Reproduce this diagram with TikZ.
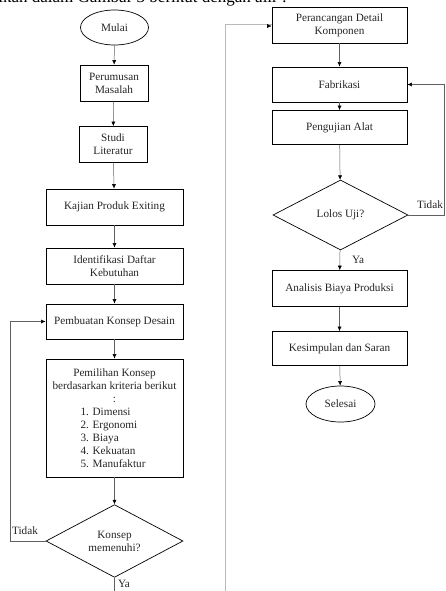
\documentclass[tikz,border=0pt]{standalone}
\usepackage{fontspec}
\setmainfont{Liberation Serif}
\usetikzlibrary{arrows.meta,shapes.geometric}
\newcommand{\fs}{\fontsize{11.2}{13}\selectfont}
\tikzset{
  base/.style={draw=black, line width=0.7pt, inner sep=0pt, align=center, font=\fs, text=black!85},
  proc/.style={base, rectangle, minimum width=135pt, minimum height=36pt},
  procs/.style={base, rectangle, minimum width=68pt, minimum height=36pt},
  term/.style={base, ellipse, minimum width=68pt, minimum height=35pt},
  dec/.style={base, diamond, minimum width=137pt, minimum height=72pt},
  conn/.style={draw=gray!75!black, line width=0.5pt, -{Latex[length=4.5pt,width=4pt,color=black]}},
  connp/.style={draw=gray!75!black, line width=0.5pt},
  connc/.style={draw=gray!55, line width=1pt},
  lbl/.style={font=\fs, inner sep=0pt, text=black!85}
}
\begin{document}
\begin{tikzpicture}[x=1pt,y=-1pt]
\useasboundingbox (0,0) rectangle (446,591);
\fill[white] (0,0) rectangle (446,591);
\begin{scope}
\clip (0,0) rectangle (446,591);
\node[anchor=base east, font=\fontsize{17}{17}\selectfont, inner sep=0pt] (toptext) at (287,2.2) {disajikan dalam Gambar 3 berikut dengan alir :};
\end{scope}
% left column
\node[term] (mulai) at (114.5,27.5) {Mulai};
\node[procs] (rumus) at (114,83) {Perumusan\\Masalah};
\node[procs] (studi) at (113,144.5) {Studi\\Literatur};
\node[proc, minimum width=137pt] (kajian) at (114.5,207) {Kajian Produk Exiting};
\node[proc, minimum width=137pt] (ident) at (114.5,266) {Identifikasi Daftar\\Kebutuhan};
\node[proc, minimum width=137pt, minimum height=35pt] (buat) at (114.5,321.5) {Pembuatan Konsep Desain};
\node[proc, minimum width=137pt, minimum height=118pt] (pilih) at (114.5,418) {Pemilihan Konsep\\berdasarkan kriteria berikut\\:\\
\makebox[68pt][l]{1. Dimensi}\\\makebox[68pt][l]{2. Ergonomi}\\\makebox[68pt][l]{3. Biaya}\\\makebox[68pt][l]{4. Kekuatan}\\\makebox[68pt][l]{5. Manufaktur}};
\node[dec] (konsep) at (114.5,541) {Konsep\\memenuhi?};
\coordinate (loopL) at (10,541);
\coordinate (yaEnd) at (114.5,591);
\node[lbl] (tidak1) at (25,531) {Tidak};
\node[lbl] (ya1) at (124,584) {Ya};
\draw[conn] (mulai) -- (rumus);
\draw[conn] (rumus) -- (studi);
\draw[conn] (studi) -- (kajian);
\draw[conn] (kajian) -- (ident);
\draw[conn] (ident) -- (buat);
\draw[conn] (buat) -- (pilih);
\draw[conn] (pilih) -- (konsep);
\draw[conn] (konsep.west) -- (loopL) |- (buat.west);
\draw[connp] (konsep.south) -- (yaEnd);
% right column
\node[proc] (detail) at (339.5,25) {Perancangan Detail\\Komponen};
\node[proc, minimum height=35pt] (fab) at (339.5,84.5) {Fabrikasi};
\node[proc, minimum height=34pt] (uji) at (339.5,127.5) {Pengujian Alat};
\node[dec, minimum width=135pt, minimum height=70pt] (lolos) at (340.5,215) {Lolos Uji?};
\node[proc] (analisis) at (339.5,288.5) {Analisis Biaya Produksi};
\node[proc, minimum height=34pt] (simpul) at (339.5,348.5) {Kesimpulan dan Saran};
\node[term, minimum width=69pt, minimum height=36pt] (selesai) at (340.5,404) {Selesai};
\coordinate (contB) at (225,591);
\coordinate (loopR) at (444,215);
\node[lbl] (tidak2) at (430,205) {Tidak};
\node[lbl] (ya2) at (358,260) {Ya};
\draw[connc] (contB) |- (detail.west);
\draw[conn] ([yshift=-1pt]detail.west) ++(-3,0) -- ([yshift=-1pt]detail.west);
\draw[conn] (detail) -- (fab);
\draw[conn] (fab) -- (uji);
\draw[conn] (uji) -- (lolos);
\draw[conn] (lolos) -- (analisis);
\draw[conn] (analisis) -- (simpul);
\draw[conn] (simpul) -- (selesai);
\draw[conn] (lolos.east) -- (loopR) |- (fab.east);
\end{tikzpicture}
\end{document}
